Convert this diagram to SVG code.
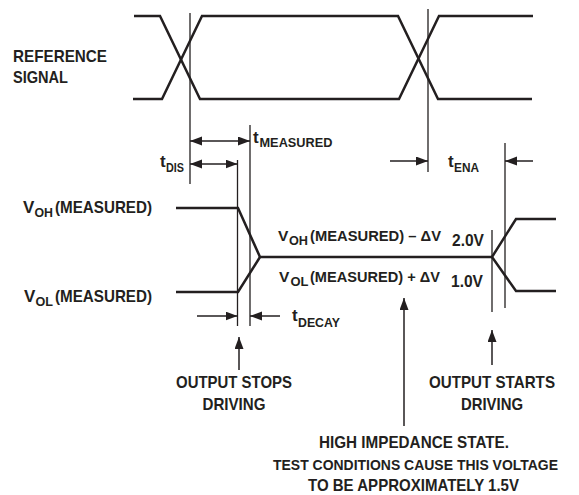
<svg xmlns="http://www.w3.org/2000/svg" width="579" height="495" viewBox="0 0 579 495">
<style>
.sig{fill:none;stroke:#231f20;stroke-width:2.5;stroke-linejoin:miter}
.thin{fill:none;stroke:#231f20;stroke-width:1.3}
.arr{fill:none;stroke:#231f20;stroke-width:1.5}
text{font-family:"Liberation Sans",Arial,sans-serif;font-weight:bold;fill:#231f20;font-size:17px}
.sub{font-size:13.5px}
.mid{text-anchor:middle}
.m{font-size:15.5px}
</style>
<defs>
<marker id="ah" markerUnits="userSpaceOnUse" markerWidth="13" markerHeight="10" refX="12" refY="4.5" orient="auto-start-reverse">
<path d="M0,0 L12,4.5 L0,9 z" fill="#231f20"/>
</marker>
</defs>
<rect width="579" height="495" fill="#fff"/>
<g id="reference-signal">
<polyline class="sig" points="134,16 160,16 200,99 399,99 439,16 533,16"/>
<polyline class="sig" points="133,99 162,99 202,16 398,16 438,99 532,99"/>
<text x="13" y="62" textLength="94" lengthAdjust="spacingAndGlyphs">REFERENCE</text>
<text x="13" y="83" textLength="55" lengthAdjust="spacingAndGlyphs">SIGNAL</text>
</g>
<g id="output-waveform">
<polyline class="sig" points="176,208 238,208 260,257 492,257"/>
<polyline class="sig" points="176,292 238,292 260,257"/>
<polyline class="sig" points="556,219 516,219 492,257 516,291 556,291"/>
</g>
<g id="markers">
<line class="thin" x1="190" y1="13" x2="190" y2="184"/>
<line class="thin" x1="428" y1="9" x2="428" y2="172"/>
<line class="thin" x1="250" y1="125" x2="250" y2="326"/>
<line class="thin" x1="237.5" y1="160" x2="237.5" y2="326"/>
<line class="thin" x1="492" y1="230" x2="492" y2="312"/>
<line class="thin" x1="505" y1="143" x2="505" y2="308"/>
</g>
<g id="connectors">
<line class="arr" x1="190" y1="141" x2="250" y2="141" marker-start="url(#ah)" marker-end="url(#ah)"/>
<line class="arr" x1="190" y1="164" x2="237.5" y2="164" marker-start="url(#ah)" marker-end="url(#ah)"/>
<line class="arr" x1="390" y1="161" x2="428" y2="161" marker-end="url(#ah)"/>
<line class="arr" x1="533" y1="161" x2="505" y2="161" marker-end="url(#ah)"/>
<line class="arr" x1="197" y1="316" x2="237.5" y2="316" marker-end="url(#ah)"/>
<line class="arr" x1="280" y1="316" x2="250" y2="316" marker-end="url(#ah)"/>
<line class="arr" x1="239" y1="370" x2="239" y2="337" marker-end="url(#ah)"/>
<line class="arr" x1="404" y1="426" x2="404" y2="298" marker-end="url(#ah)"/>
<line class="arr" x1="492" y1="365" x2="492" y2="330" marker-end="url(#ah)"/>
</g>
<g id="t-measured"><text x="253" y="143">t<tspan class="sub" x="259.5" y="147" textLength="73" lengthAdjust="spacingAndGlyphs">MEASURED</tspan></text></g>
<g id="t-dis"><text x="160" y="167">t<tspan class="sub" x="166" y="172" textLength="18" lengthAdjust="spacingAndGlyphs">DIS</tspan></text></g>
<g id="t-ena"><text x="448" y="167">t<tspan class="sub" x="454" y="172" textLength="25" lengthAdjust="spacingAndGlyphs">ENA</tspan></text></g>
<g id="t-decay"><text x="292" y="321">t<tspan class="sub" x="298" y="327" textLength="42" lengthAdjust="spacingAndGlyphs">DECAY</tspan></text></g>
<g id="voh-label"><text x="23" y="213">V<tspan class="sub" x="34.5" y="217" textLength="18.5" lengthAdjust="spacingAndGlyphs">OH</tspan><tspan x="55" y="213" textLength="97" lengthAdjust="spacingAndGlyphs">(MEASURED)</tspan></text></g>
<g id="vol-label"><text x="24" y="302">V<tspan class="sub" x="35.5" y="306" textLength="17.5" lengthAdjust="spacingAndGlyphs">OL</tspan><tspan x="55" y="302" textLength="97" lengthAdjust="spacingAndGlyphs">(MEASURED)</tspan></text></g>
<g id="voh-dv"><text class="m" x="278" y="241">V<tspan class="sub" x="289" y="245" textLength="19" lengthAdjust="spacingAndGlyphs">OH</tspan><tspan x="310" y="241" textLength="131" lengthAdjust="spacingAndGlyphs">(MEASURED) – ΔV</tspan></text><text x="452" y="246" textLength="32" lengthAdjust="spacingAndGlyphs">2.0V</text></g>
<g id="vol-dv"><text class="m" x="279" y="282">V<tspan class="sub" x="290.5" y="286" textLength="18" lengthAdjust="spacingAndGlyphs">OL</tspan><tspan x="310" y="282" textLength="130" lengthAdjust="spacingAndGlyphs">(MEASURED) + ΔV</tspan></text><text x="451" y="287" textLength="32" lengthAdjust="spacingAndGlyphs">1.0V</text></g>
<g id="output-stops"><text class="mid" x="234" y="388" textLength="116" lengthAdjust="spacingAndGlyphs">OUTPUT STOPS</text><text class="mid" x="234" y="410" textLength="63" lengthAdjust="spacingAndGlyphs">DRIVING</text></g>
<g id="output-starts"><text class="mid" x="492" y="388" textLength="126" lengthAdjust="spacingAndGlyphs">OUTPUT STARTS</text><text class="mid" x="492" y="410" textLength="62" lengthAdjust="spacingAndGlyphs">DRIVING</text></g>
<g id="high-impedance"><text class="mid" x="414" y="447.5" textLength="190" lengthAdjust="spacingAndGlyphs">HIGH IMPEDANCE STATE.</text><text class="mid" x="415.5" y="469.5" style="font-size:15px" textLength="285" lengthAdjust="spacingAndGlyphs">TEST CONDITIONS CAUSE THIS VOLTAGE</text><text class="mid" x="413.5" y="491" textLength="211" lengthAdjust="spacingAndGlyphs">TO BE APPROXIMATELY 1.5V</text></g>
</svg>
